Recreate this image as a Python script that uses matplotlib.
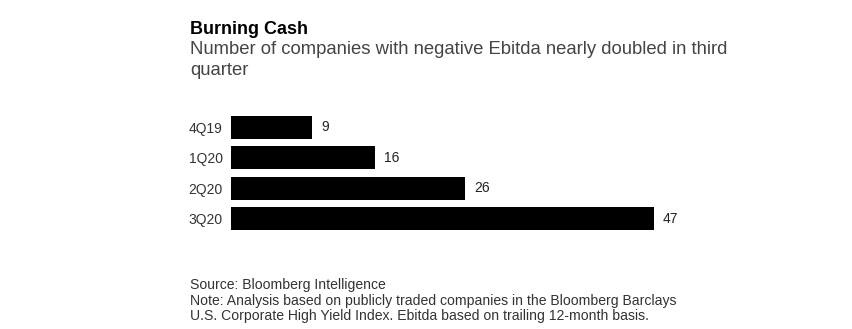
import matplotlib.pyplot as plt

plt.rcParams['font.family'] = ['Liberation Sans', 'DejaVu Sans']

quarters = ["4Q19", "1Q20", "2Q20", "3Q20"]
counts = [9, 16, 26, 47]

title = "Burning Cash"
subtitle = "Number of companies with negative Ebitda nearly doubled in third\nquarter"
source = ("Source: Bloomberg Intelligence\n"
          "Note: Analysis based on publicly traded companies in the Bloomberg Barclays\n"
          "U.S. Corporate High Yield Index. Ebitda based on trailing 12-month basis.")

W, H = 853, 329
fig = plt.figure(figsize=(W / 100, H / 100), dpi=100)

# axes placed in pixel terms: bars start at x=231, 47 ends at x=654
left, right, top, bottom = 231, 654, 112, 234
ax = fig.add_axes([left / W, 1 - bottom / H, (right - left) / W, (bottom - top) / H])

pos = range(len(quarters))
ax.barh(pos, counts, height=0.76, color="black")
ax.set_xlim(0, 47)
ax.set_ylim(len(quarters) - 0.5, -0.5)
for p, v in zip(pos, counts):
    ax.text(v + 1, p, str(v), va="center", ha="left", fontsize=10, color="#222222")

ax.set_yticks(list(pos))
ax.set_yticklabels(quarters, fontsize=10, color="#333333")
ax.tick_params(axis="y", length=0, pad=6)
ax.set_xticks([])
for s in ax.spines.values():
    s.set_visible(False)

fig.text(190 / W, 1 - 21 / H, title, fontsize=13, fontweight="bold", va="top", ha="left", color="black")
fig.text(190 / W, 1 - 41 / H, subtitle, fontsize=13.3, va="top", ha="left", color="#444444", linespacing=1.3)
fig.text(190 / W, 1 - 278 / H, source, fontsize=10.1, va="top", ha="left", color="#333333", linespacing=1.15)

fig.savefig("out.png", dpi=100)
